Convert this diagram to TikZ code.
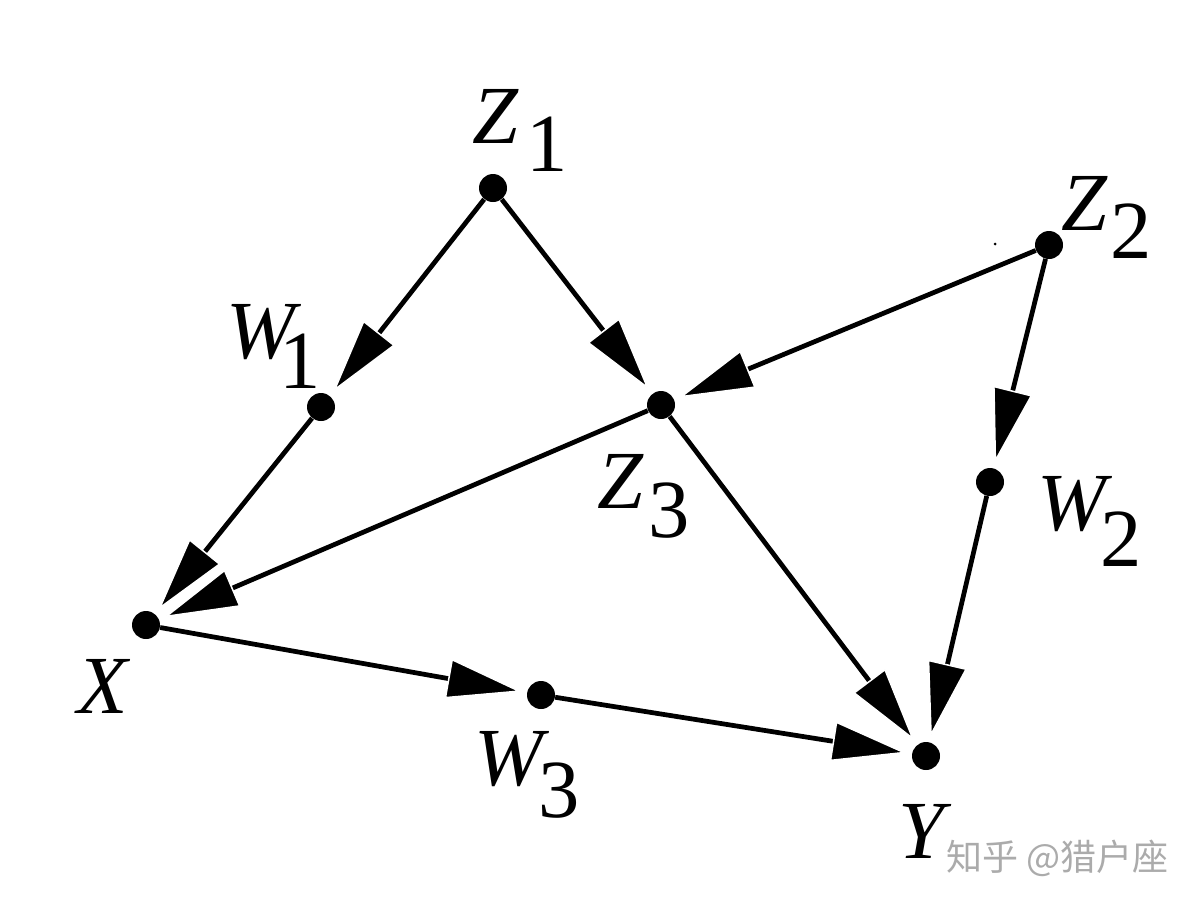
\documentclass[tikz,border=0pt]{standalone}
\usepackage{fontspec}
\setmainfont{LiberationSerif}[Extension=.ttf, UprightFont=*-Regular, ItalicFont=*-Italic, BoldFont=*-Bold, BoldItalicFont=*-BoldItalic]
\newfontfamily\cjkfont{Noto Sans CJK SC}
\usetikzlibrary{arrows.meta,backgrounds}
\begin{document}
\begin{tikzpicture}[x=0.02cm,y=-0.02cm,
  dot/.style={circle, fill=black, inner sep=0pt, minimum size=0.56cm},
  lbl/.style={inner sep=0pt, anchor=base west, font={\fontsize{47}{50}\selectfont}},
  edgearr/.style={line width=0.095cm, shorten >=0.1cm,
    -{Triangle[length=1.5cm, width=0.8cm, color=white, fill=black, line width=0.03cm]}},
  wmark/.style={inner sep=0pt, anchor=base west, text=black!33,
    font={\fontsize{20.5}{22}\selectfont\cjkfont}}]
\useasboundingbox (0,0) rectangle (1201,907);
% dots
\node[dot] (z1) at (493,188) {};
\node[dot] (z2) at (1049,245) {};
\node[dot] (z3) at (661,405) {};
\node[dot] (w1) at (321,407) {};
\node[dot] (w2) at (990,482) {};
\node[dot] (w3) at (541,695) {};
\node[dot] (x) at (146,625) {};
\node[dot] (y) at (926,756) {};
\node[circle, fill=black, inner sep=0pt, minimum size=0.06cm] (speck) at (995,244) {};
% edges
\begin{scope}[on background layer]
\draw[edgearr] (z1) -- (w1);
\draw[edgearr] (z1) -- (z3);
\draw[edgearr] (z2) -- (z3);
\draw[edgearr] (z2) -- (w2);
\draw[edgearr] (w1) -- (x);
\draw[edgearr] (z3) -- (x);
\draw[edgearr] (x) -- (w3);
\draw[edgearr] (w3) -- (y);
\draw[edgearr] (z3) -- (y);
\draw[edgearr] (w2) -- (y);
\end{scope}
% labels
\node[lbl] (lz1) at (472,143) {\textit{Z}};
\node[lbl] (lz1s) at (526,171) {1};
\node[lbl] (lz2) at (1061,230) {\textit{Z}};
\node[lbl] (lz2s) at (1110,258) {2};
\node[lbl] (lz3) at (597,508) {\textit{Z}};
\node[lbl] (lz3s) at (648,537) {3};
\node[lbl] (lw1) at (226,358) {\textit{W}};
\node[lbl] (lw1s) at (279,388) {1};
\node[lbl] (lw2) at (1037,530) {\textit{W}};
\node[lbl] (lw2s) at (1100,566) {2};
\node[lbl] (lw3) at (474,785) {\textit{W}};
\node[lbl] (lw3s) at (538,817) {3};
\node[lbl] (lx) at (77,713) {\textit{X}};
\node[lbl] (ly) at (898,858) {\textit{Y}};
% watermark
\node[wmark] (wm) at (946,870) {知乎 @猎户座};
\end{tikzpicture}
\end{document}
